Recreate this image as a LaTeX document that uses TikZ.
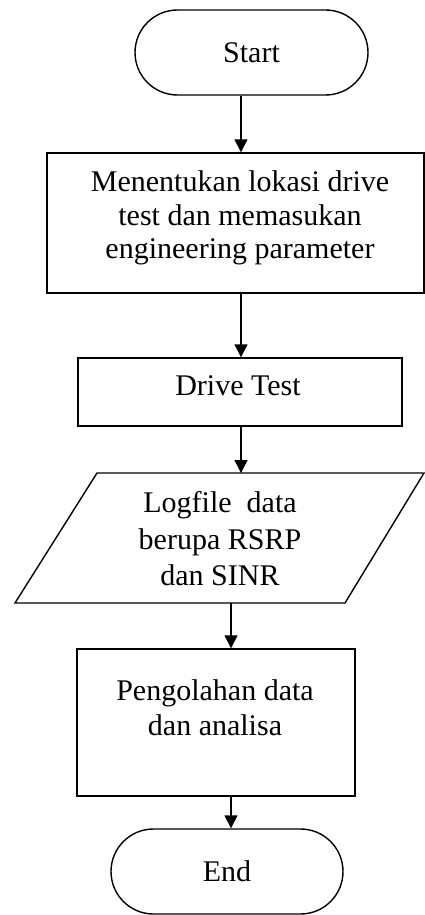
\documentclass[tikz,border=0pt]{standalone}
\usepackage{fontspec}
\setmainfont{Liberation Serif}
\usetikzlibrary{arrows.meta,shapes.misc}
\begin{document}
\begin{tikzpicture}[x=1pt,y=-1pt,
  every node/.style={font=\fontsize{30}{33.5}\selectfont, align=center},
  line/.style={line width=1.4pt},
  term/.style={line, draw, rounded rectangle, minimum width=233pt, minimum height=85pt, inner sep=0pt},
  proc/.style={line, draw, rectangle, inner sep=0pt},
  txt/.style={inner sep=0pt},
  arr/.style={line, -{Triangle[width=13pt,length=13pt]}}
]
\useasboundingbox (0,0) rectangle (425,915);
% guide columns for connectors
\coordinate (ax) at (241,0);
\coordinate (bx) at (231,0);
% nodes
\node[term] (start) at (251.5,52.5) {Start};
\node[proc, minimum width=377pt, minimum height=140pt] (b1) at (235.5,223) {};
\node[txt] (b1t) at (240,218) {Menentukan lokasi drive\\test dan memasukan\\engineering parameter};
\node[proc, minimum width=324pt, minimum height=68pt] (b2) at (240,392) {};
\node[txt] (b2t) at (238,386) {Drive Test};
% parallelogram
\coordinate (pTL) at (97,473);
\coordinate (pTR) at (424,473);
\coordinate (pBR) at (345,603);
\coordinate (pBL) at (15,603);
\draw[line] (pTL) -- (pTR) -- (pBR) -- (pBL) -- cycle;
\node[txt, font=\fontsize{30}{36.5}\selectfont] (log) at (220,539) {Logfile~~data\\berupa RSRP\\dan SINR};
\coordinate (ltop) at (241,473);
\coordinate (lbot) at (231,603);
\node[proc, minimum width=278pt, minimum height=147pt] (b3) at (216,722.5) {};
\node[txt, font=\fontsize{30}{35}\selectfont] (b3t) at (215,707.5) {Pengolahan data\\dan analisa};
\node[term, minimum width=232pt] (end) at (227,871.5) {End};
% connectors
\draw[arr] (start.south -| ax) -- (b1.north -| ax);
\draw[arr] (b1.south -| ax) -- (b2.north -| ax);
\draw[arr] (b2.south -| ax) -- (ltop);
\draw[arr] (lbot) -- (b3.north -| bx);
\draw[arr] (b3.south -| bx) -- (end.north -| bx);
\end{tikzpicture}
\end{document}
